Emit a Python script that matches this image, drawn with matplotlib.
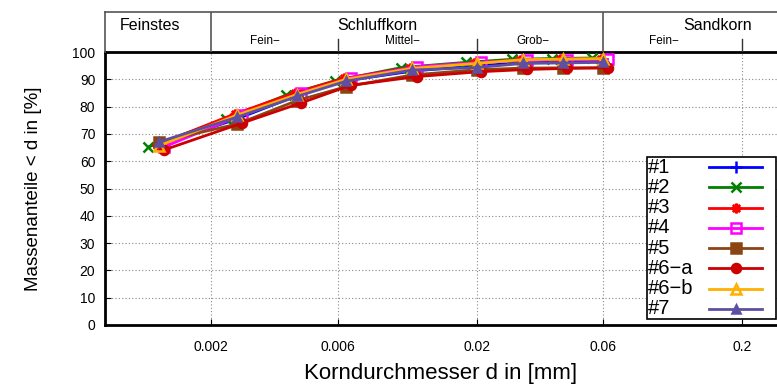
import numpy as np
import matplotlib
matplotlib.use('Agg')
import matplotlib.pyplot as plt
from matplotlib.patches import Rectangle

plt.rcParams['font.family'] = ['Liberation Sans', 'DejaVu Sans']

# grain diameters [mm] (base positions) and per-series shift factors
d_base = [0.00128, 0.00251, 0.00422, 0.00646, 0.01147, 0.0200, 0.0298, 0.0422, 0.0598]

labels = ['#1', '#2', '#3', '#4', '#5', '#6\u2212a', '#6\u2212b', '#7']
shift = [1.0, 0.91, 0.98, 1.04, 1.0, 1.04, 1.0, 1.0]

val_1 = [66.0, 75.5, 84.0, 89.5, 93.0, 95.0, 96.0, 96.3, 96.5]
val_2 = [65.2, 75.5, 84.2, 89.5, 94.3, 96.2, 97.3, 97.6, 97.8]
val_3 = [66.0, 77.3, 85.0, 90.3, 94.3, 96.0, 97.2, 97.4, 97.6]
val_4 = [65.2, 76.9, 85.1, 90.5, 94.6, 96.2, 97.0, 97.2, 97.3]
val_5 = [67.1, 73.6, 82.2, 87.3, 91.6, 93.5, 94.1, 94.2, 94.2]
val_6a = [64.1, 73.9, 81.4, 87.8, 91.0, 92.8, 93.6, 94.0, 94.2]
val_6b = [65.7, 76.9, 84.4, 90.0, 94.0, 95.8, 97.2, 97.4, 97.6]
val_7 = [67.1, 76.1, 83.7, 89.3, 93.4, 94.3, 95.8, 96.0, 96.2]
values = [val_1, val_2, val_3, val_4, val_5, val_6a, val_6b, val_7]

colors = ['#0000ff', '#008000', '#ff0000', '#ff00ff', '#8b4513', '#cc0000', '#ffb000', '#5e4fa2']
markers = ['+', 'x', (8, 2, 0), 's', 's', 'o', '^', '^']
mfc = [None, None, None, 'none', None, None, 'none', None]
msize = [8, 7, 7, 6.5, 6.5, 6.5, 7, 5.5]

xticks = [0.002, 0.006, 0.02, 0.06, 0.2]
xticklabels = ['0.002', '0.006', '0.02', '0.06', '0.2']

fig = plt.figure(figsize=(7.77, 3.88), dpi=100)
ax = fig.add_axes([105 / 777, 63 / 388, 672 / 777, 273 / 388])

for i in range(len(labels)):
    xs = np.array(d_base) * shift[i]
    ax.plot(xs, values[i], color=colors[i], lw=2.0, marker=markers[i],
            ms=msize[i], mew=1.8, mfc=mfc[i] if mfc[i] else colors[i],
            clip_on=False, zorder=3)

ax.set_xscale('log')
ax.set_xlim(0.0008, 0.27)
ax.set_ylim(0, 100)
ax.set_xticks(xticks)
ax.set_xticklabels(xticklabels)
ax.xaxis.set_minor_locator(matplotlib.ticker.NullLocator())
ax.set_yticks(np.arange(0, 101, 10))
ax.tick_params(axis='both', direction='in', length=4, labelsize=10)
ax.tick_params(axis='x', pad=11)
ax.tick_params(axis='y', pad=7)
ax.grid(True, color='#888888', lw=0.8, ls=(0, (1, 2)))
ax.set_axisbelow(True)
for s in ['left', 'bottom', 'top']:
    ax.spines[s].set_linewidth(2)
ax.spines['right'].set_visible(False)

ax.set_xlabel('Korndurchmesser d in [mm]', fontsize=16, labelpad=6)
ax.set_ylabel('Massenanteile < d in [%]', fontsize=13.5, labelpad=22)

# legend drawn by hand: text first, sample on the right
leg_l, leg_r = (647 - 105) / 672, (776 - 105) / 672
leg_t, leg_b = (325 - 157) / 273, (325 - 319) / 273
ax.add_patch(Rectangle((leg_l, leg_b), leg_r - leg_l, leg_t - leg_b, transform=ax.transAxes,
                       facecolor='white', edgecolor='black', lw=1.2, zorder=5, clip_on=False))
row_h = (leg_t - leg_b) / len(labels)
for i, lab in enumerate(labels):
    yy = leg_t - row_h * (i + 0.5)
    ax.text(leg_l + 0.002, yy, lab, transform=ax.transAxes, ha='left', va='center',
            fontsize=14.5, zorder=6)
    x0, x1 = (709 - 105) / 672, (762 - 105) / 672
    ax.plot([x0, x1], [yy, yy], transform=ax.transAxes, color=colors[i], lw=2.0,
            zorder=6, clip_on=False)
    ax.plot([(x0 + x1) / 2], [yy], transform=ax.transAxes, color=colors[i], lw=0,
            marker=markers[i], ms=msize[i], mew=1.8,
            mfc=mfc[i] if mfc[i] else colors[i], zorder=7, clip_on=False)

# header with grain size classes
hx = fig.add_axes([105 / 777, 336 / 388, 672 / 777, 40 / 388], sharex=ax)
hx.set_ylim(0, 1)
hx.axis('off')
gray = '#555555'
hx.plot([0.0008, 0.27], [1, 1], color=gray, lw=1.2, clip_on=False)
hx.plot([0.0008, 0.0008], [0, 1], color=gray, lw=1.2, clip_on=False)
for xv in [0.002, 0.06]:
    hx.plot([xv, xv], [0, 1], color=gray, lw=1.2)
for xv in [0.006, 0.02, 0.2]:
    hx.plot([xv, xv], [0, 0.33], color='#333333', lw=1.0)

hx.text(0.00118, 0.66, 'Feinstes', ha='center', va='center', fontsize=11.5)
hx.text(0.00846, 0.66, 'Schluffkorn', ha='center', va='center', fontsize=11.5)
hx.text(0.161, 0.66, 'Sandkorn', ha='center', va='center', fontsize=11.5)
hx.text(0.0032, 0.28, 'Fein\u2212', ha='center', va='center', fontsize=8.5)
hx.text(0.0105, 0.28, 'Mittel\u2212', ha='center', va='center', fontsize=8.5)
hx.text(0.0326, 0.28, 'Grob\u2212', ha='center', va='center', fontsize=8.5)
hx.text(0.1016, 0.28, 'Fein\u2212', ha='center', va='center', fontsize=8.5)

fig.savefig('out.png', dpi=100)
